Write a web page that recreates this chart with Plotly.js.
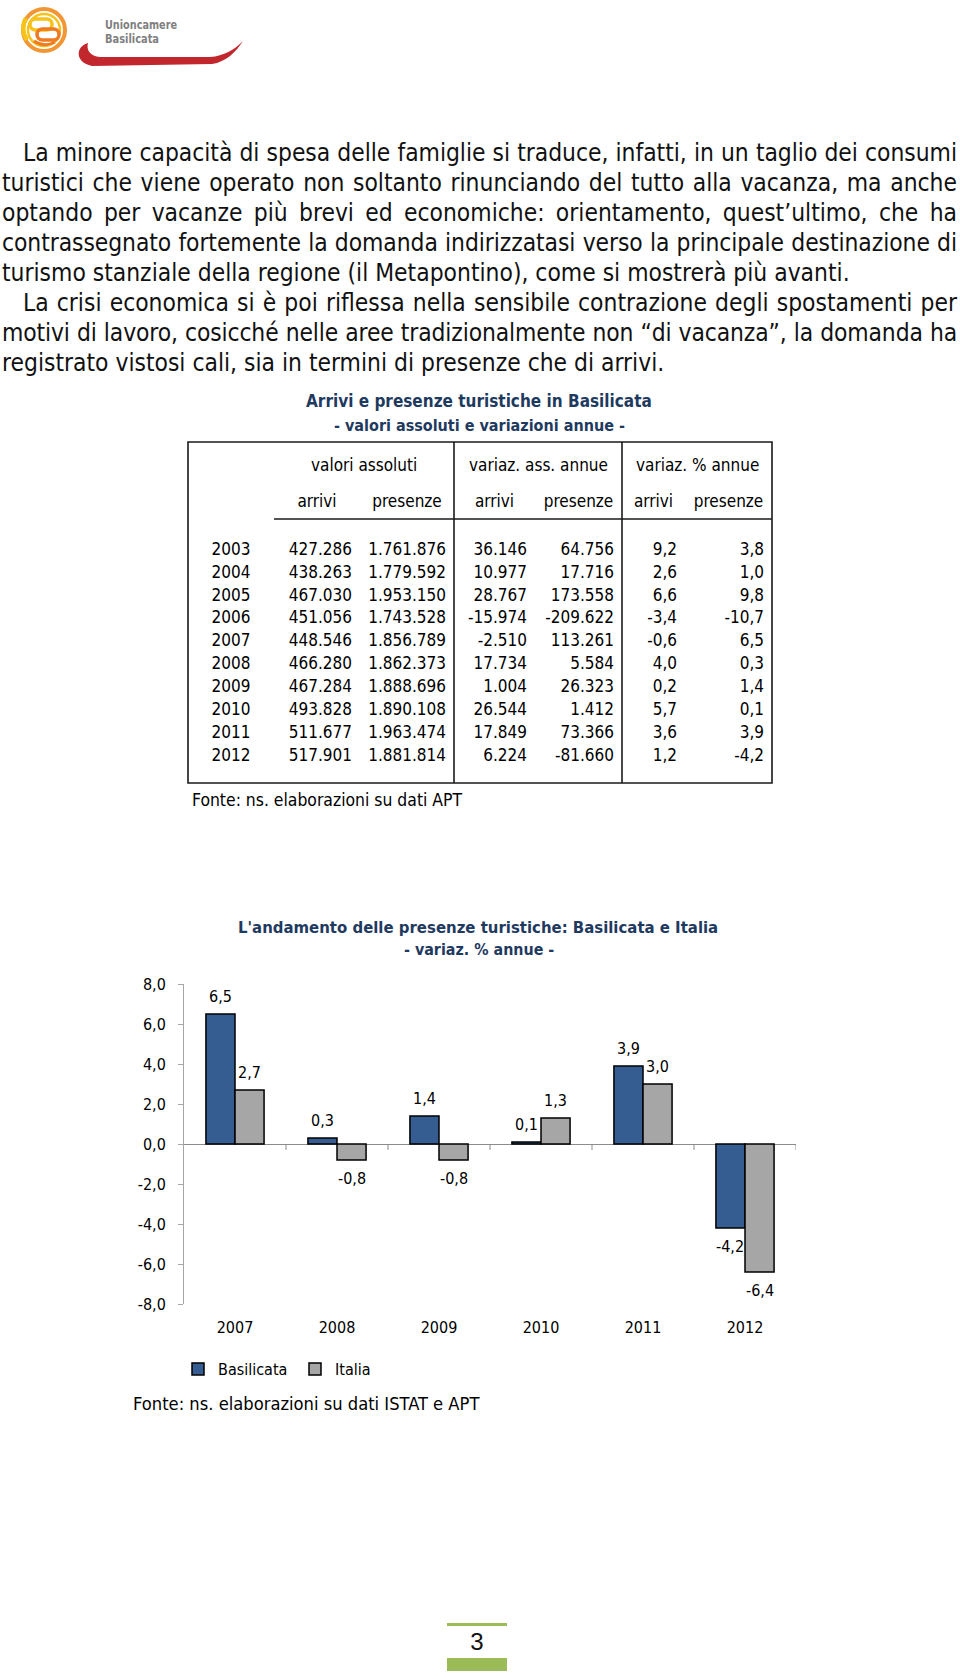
<!DOCTYPE html>
<html>
<head>
<meta charset="utf-8">
<script src="https://cdn.plot.ly/plotly-3.0.1.min.js"></script>
<style>
html,body{margin:0;padding:0;background:#fff;}
body{width:960px;height:1679px;position:relative;overflow:hidden;font-family:"DejaVu Sans Condensed","DejaVu Sans",sans-serif;}
#logo{position:absolute;left:0;top:0;}
#text{position:absolute;left:2px;top:138px;width:955px;line-height:30px;color:#111;font-size:20.6px;}
#text div{text-align:justify;text-align-last:justify;height:30px;overflow:visible;}
#text div.last{text-align-last:left;}
#text div.ind{padding-left:21px;}
#tbl{position:absolute;left:0;top:380px;width:960px;height:440px;}
#chart{position:absolute;left:0;top:900px;width:960px;height:540px;}
#pg{position:absolute;left:447px;width:60px;top:1628px;height:28px;line-height:28px;text-align:center;font-family:"Liberation Sans",sans-serif;font-size:24px;color:#111;}
.gbar{position:absolute;left:447px;width:60px;background:#9BBB59;}
</style>
</head>
<body>
<svg id="logo" width="260" height="80" viewBox="0 0 260 80">
  <circle cx="44" cy="30" r="21" fill="none" stroke="#F29533" stroke-width="4"/>
  <path d="M27 40 A21 21 0 0 1 26 18" stroke="#F7C31B" stroke-width="4.5" fill="none"/>
  <circle cx="44" cy="30" r="16" fill="none" stroke="#F7C31B" stroke-width="2.5"/>
  <rect x="30" y="19" width="22" height="11" rx="5.5" fill="none" stroke="#F7C31B" stroke-width="3.5"/>
  <rect x="37" y="29" width="22" height="11" rx="5.5" fill="none" stroke="#EE7A22" stroke-width="3.5"/>
  <path d="M34 41 Q44 48 55 42" stroke="#EE7A22" stroke-width="3" fill="none"/>
  <text x="105" y="29" font-family="DejaVu Sans Condensed" font-weight="bold" font-size="13" fill="#808080" textLength="72" lengthAdjust="spacingAndGlyphs">Unioncamere</text>
  <text x="105" y="43" font-family="DejaVu Sans Condensed" font-weight="bold" font-size="13" fill="#808080" textLength="54" lengthAdjust="spacingAndGlyphs">Basilicata</text>
  <path d="M88 43 C76 46 74 62 92 66 L212 64 C226 62 236 52 243 41 C234 50 224 56 210 57 L100 57 C90 56 86 50 88 43 Z" fill="#C1272D"/>
</svg>

<div id="text">
  <div class="ind">La minore capacità di spesa delle famiglie si traduce, infatti, in un taglio dei consumi</div>
  <div>turistici che viene operato non soltanto rinunciando del tutto alla vacanza, ma anche</div>
  <div>optando per vacanze più brevi ed economiche: orientamento, quest’ultimo, che ha</div>
  <div>contrassegnato fortemente la domanda indirizzatasi verso la principale destinazione di</div>
  <div class="last" id="l5">turismo stanziale della regione (il Metapontino), come si mostrerà più avanti.</div>
  <div class="ind">La crisi economica si è poi riflessa nella sensibile contrazione degli spostamenti per</div>
  <div>motivi di lavoro, cosicché nelle aree tradizionalmente non “di vacanza”, la domanda ha</div>
  <div class="last" id="l8">registrato vistosi cali, sia in termini di presenze che di arrivi.</div>
</div>

<div id="tbl"></div>
<div id="chart"></div>

<div class="gbar" style="top:1623px;height:3px;"></div>
<div id="pg">3</div>
<div class="gbar" style="top:1658px;height:13px;"></div>

<script>
// ---------------- DATA ----------------
const years = ['2003','2004','2005','2006','2007','2008','2009','2010','2011','2012'];
const arrivi = [427286, 438263, 467030, 451056, 448546, 466280, 467284, 493828, 511677, 517901];
const presenze = [1761876, 1779592, 1953150, 1743528, 1856789, 1862373, 1888696, 1890108, 1963474, 1881814];
const varAssArrivi = [36146, 10977, 28767, -15974, -2510, 17734, 1004, 26544, 17849, 6224];
const varAssPresenze = [64756, 17716, 173558, -209622, 113261, 5584, 26323, 1412, 73366, -81660];
const varPctArrivi = [9.2, 2.6, 6.6, -3.4, -0.6, 4.0, 0.2, 5.7, 3.6, 1.2];
const varPctPresenze = [3.8, 1.0, 9.8, -10.7, 6.5, 0.3, 1.4, 0.1, 3.9, -4.2];
const groupHeaders = ['valori assoluti', 'variaz. ass. annue', 'variaz. % annue'];
const subHeaders = ['', 'arrivi', 'presenze', 'arrivi', 'presenze', 'arrivi', 'presenze'];
const tableTitle = 'Arrivi e presenze turistiche in Basilicata';
const tableSubtitle = '- valori assoluti e variazioni annue -';
const tableSource = 'Fonte: ns. elaborazioni su dati APT';

const chartYears = ['2007','2008','2009','2010','2011','2012'];
const basilicata = [6.5, 0.3, 1.4, 0.1, 3.9, -4.2];
const italia = [2.7, -0.8, -0.8, 1.3, 3.0, -6.4];
const seriesNames = ['Basilicata', 'Italia'];
const yTicks = [-8, -6, -4, -2, 0, 2, 4, 6, 8];
const chartTitle = "L'andamento delle presenze turistiche: Basilicata e Italia";
const chartSubtitle = '- variaz. % annue -';
const chartSource = 'Fonte: ns. elaborazioni su dati ISTAT e APT';

// ---------------- helpers ----------------
function fmtInt(n){
  const s = String(Math.abs(n)).replace(/\B(?=(\d{3})+(?!\d))/g, '.');
  return (n < 0 ? '-' : '') + s;
}
function fmtPct(n){ return n.toFixed(1).replace('.', ','); }

// ---------------- body text fit ----------------
(function(){
  const ctx = document.createElement('canvas').getContext('2d');
  const base = 20;
  const wAt = (t, f) => { ctx.font = f + 'px "DejaVu Sans Condensed"'; return ctx.measureText(t).width; };
  const l5 = document.getElementById('l5').textContent;
  const l8 = document.getElementById('l8').textContent;
  const fs = base * ((857 / wAt(l5, base)) + (655 / wAt(l8, base))) / 2;
  const el = document.getElementById('text');
  el.style.fontSize = fs.toFixed(2) + 'px';
  document.querySelectorAll('#text div').forEach(d => {
    if (d.classList.contains('last')) return;
    const t = d.textContent;
    const avail = 955 - (d.classList.contains('ind') ? 21 : 0) - 4;
    const lim = (avail - wAt(t, fs)) / t.length;
    if (lim < 0) d.style.letterSpacing = lim.toFixed(3) + 'px';
  });
})();

// ---------------- TABLE ----------------
const FONT = 'DejaVu Sans Condensed, DejaVu Sans, sans-serif';
const TOP = 380, H = 440, W = 960;
const px = X => X / W;
const py = Y => 1 - (Y - TOP) / H;

const colW = [86, 86, 94, 81, 87, 63, 87];
const boxL = 188, boxT = 442, boxB = 783;
const colEdges = [boxL];
colW.forEach(c => colEdges.push(colEdges[colEdges.length - 1] + c));
const boxR = colEdges[colEdges.length - 1];

const tableTrace = {
  type: 'table',
  domain: {x: [px(boxL), px(boxR)], y: [py(boxB), py(486)]},
  columnwidth: colW,
  header: {
    values: subHeaders.map(s => [s]),
    height: 48,
    align: 'center',
    line: {width: 0, color: 'rgba(0,0,0,0)'},
    fill: {color: 'rgba(0,0,0,0)'},
    font: {family: FONT, size: 17, color: '#000'}
  },
  cells: {
    values: [
      years,
      arrivi.map(fmtInt),
      presenze.map(fmtInt),
      varAssArrivi.map(fmtInt),
      varAssPresenze.map(fmtInt),
      varPctArrivi.map(fmtPct),
      varPctPresenze.map(fmtPct)
    ],
    height: 22.9,
    align: ['center', 'right', 'right', 'right', 'right', 'right', 'right'],
    line: {width: 0, color: 'rgba(0,0,0,0)'},
    fill: {color: 'rgba(0,0,0,0)'},
    font: {family: FONT, size: 17, color: '#000'}
  }
};

const lineStyle = {color: '#1a1a1a', width: 1.6};
const tShapes = [
  {type: 'rect', xref: 'paper', yref: 'paper', x0: px(boxL), x1: px(boxR), y0: py(boxT), y1: py(boxB), line: lineStyle},
  {type: 'line', xref: 'paper', yref: 'paper', x0: px(colEdges[3]), x1: px(colEdges[3]), y0: py(boxT), y1: py(boxB), line: lineStyle},
  {type: 'line', xref: 'paper', yref: 'paper', x0: px(colEdges[5]), x1: px(colEdges[5]), y0: py(boxT), y1: py(boxB), line: lineStyle},
  {type: 'line', xref: 'paper', yref: 'paper', x0: px(colEdges[1]), x1: px(boxR), y0: py(519), y1: py(519), line: lineStyle}
];

const titleColor = '#1f3a5f';
const tAnn = [
  {text: '<b>' + tableTitle + '</b>', x: px(479), y: py(401), font: {family: FONT, size: 17, color: titleColor}},
  {text: '<b>' + tableSubtitle + '</b>', x: px(479), y: py(425), font: {family: FONT, size: 16, color: titleColor}},
  {text: tableSource, x: px(190), y: py(800), xanchor: 'left', font: {family: FONT, size: 17.4, color: '#000'}}
];
groupHeaders.forEach((g, i) => {
  const c0 = colEdges[1 + 2 * i], c1 = colEdges[3 + 2 * i];
  tAnn.push({text: g, x: px((c0 + c1) / 2), y: py(465), font: {family: FONT, size: 17, color: '#000'}});
});
tAnn.forEach(a => { a.xref = 'paper'; a.yref = 'paper'; a.showarrow = false; if (!a.xanchor) a.xanchor = 'center'; a.yanchor = 'middle'; });

Plotly.newPlot('tbl', [tableTrace], {
  width: W, height: H,
  margin: {l: 0, r: 0, t: 0, b: 0},
  paper_bgcolor: '#fff',
  shapes: tShapes,
  annotations: tAnn,
  font: {family: FONT}
}, {staticPlot: true, displayModeBar: false});

// ---------------- CHART ----------------
const CT = 900, CH = 540;
const ml = 184, mr = 164, mt = 84, mb = 136;
const plotW = W - ml - mr, plotH = CH - mt - mb;
const bargap = 0.43;
const catW = plotW / chartYears.length;
const barW = catW * (1 - bargap) / 2;
const cx = X => (X - ml) / plotW;
const cy = Y => (CH - mb - (Y - CT)) / plotH;

const colors = ['#355D91', '#A6A6A6'];
const series = [basilicata, italia];
const traces = series.map((s, i) => ({
  type: 'bar',
  name: seriesNames[i],
  x: chartYears,
  y: s,
  marker: {color: colors[i], line: {color: '#000', width: 1.5}},
  hoverinfo: 'none'
}));

const cAnn = [];
series.forEach((s, i) => {
  s.forEach((v, j) => {
    cAnn.push({
      x: j, y: v, xref: 'x', yref: 'y',
      text: fmtPct(v), showarrow: false,
      xshift: (i === 0 ? -1 : 1) * barW / 2,
      yshift: v >= 0 ? 18 : -18,
      xanchor: 'center', yanchor: 'middle',
      font: {family: FONT, size: 16, color: '#000'}
    });
  });
});
cAnn.push({text: '<b>' + chartTitle + '</b>', xref: 'paper', yref: 'paper', x: cx(478), y: cy(928), showarrow: false, xanchor: 'center', yanchor: 'middle', font: {family: FONT, size: 16.6, color: titleColor}});
cAnn.push({text: '<b>' + chartSubtitle + '</b>', xref: 'paper', yref: 'paper', x: cx(479), y: cy(949), showarrow: false, xanchor: 'center', yanchor: 'middle', font: {family: FONT, size: 15.9, color: titleColor}});
cAnn.push({text: chartSource, xref: 'paper', yref: 'paper', x: cx(131), y: cy(1403), showarrow: false, xanchor: 'left', yanchor: 'middle', font: {family: FONT, size: 18.2, color: '#000'}});

// tick marks on the zero line at category boundaries
const cShapes = chartYears.map((c, i) => ({
  type: 'line', xref: 'x', yref: 'y',
  x0: i + 0.5, x1: i + 0.5,
  ysizemode: 'pixel', yanchor: 0, y0: 0, y1: -6,
  line: {color: '#8c8c8c', width: 1}
}));

Plotly.newPlot('chart', traces, {
  width: W, height: CH,
  margin: {l: ml, r: mr, t: mt, b: mb},
  paper_bgcolor: '#fff', plot_bgcolor: '#fff',
  separators: ',.',
  barmode: 'group', bargap: bargap, bargroupgap: 0,
  font: {family: FONT, size: 16, color: '#000'},
  xaxis: {
    type: 'category', showline: false, ticks: '', showgrid: false, zeroline: false,
    tickfont: {family: FONT, size: 16, color: '#000'}, ticklabelstandoff: 12,
    range: [-0.5, chartYears.length - 0.5]
  },
  yaxis: {
    range: [-8, 8], tickmode: 'array', tickvals: yTicks, ticktext: yTicks.map(fmtPct),
    ticks: 'outside', ticklen: 5, tickcolor: '#a6a6a6', tickwidth: 1,
    showline: true, linecolor: '#a6a6a6', linewidth: 1,
    showgrid: false, zeroline: true, zerolinecolor: '#8c8c8c', zerolinewidth: 1,
    tickfont: {family: FONT, size: 16, color: '#000'}, ticklabelstandoff: 9
  },
  showlegend: true,
  legend: {
    orientation: 'h', x: cx(178), y: cy(1369), xanchor: 'left', yanchor: 'middle',
    font: {family: FONT, size: 16, color: '#000'},
    entrywidth: 72, entrywidthmode: 'pixels', itemwidth: 30, bgcolor: 'rgba(0,0,0,0)'
  },
  annotations: cAnn,
  shapes: cShapes
}, {staticPlot: true, displayModeBar: false});
</script>
</body>
</html>
